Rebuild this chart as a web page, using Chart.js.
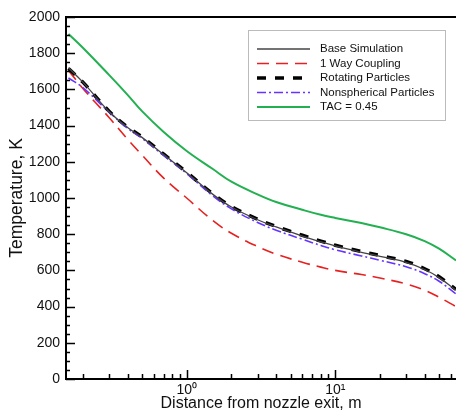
<!DOCTYPE html>
<html>
<head>
<meta charset="utf-8">
<script src="https://cdn.jsdelivr.net/npm/chart.js@4"></script>
<style>
  html, body { margin: 0; padding: 0; background: #fff; }
  #wrap { width: 456px; height: 413px; }
</style>
</head>
<body>
<div id="wrap"><canvas id="myChart"></canvas></div>
<script>
const distance = [0.16, 0.2, 0.3, 0.4, 0.5, 0.7, 1, 1.5, 2, 3, 4, 6, 8, 10, 15, 20, 30, 40, 50, 65];

const baseSim     = [1720, 1640, 1478, 1390, 1335, 1240, 1140, 1020, 950, 880, 840, 790, 758, 735, 700, 678, 645, 605, 560, 490];
const oneWay      = [1705, 1605, 1445, 1325, 1238, 1110, 1000, 875, 805, 732, 690, 645, 618, 600, 577, 558, 525, 490, 452, 400];
const rotating    = [1715, 1640, 1480, 1392, 1337, 1242, 1142, 1023, 953, 883, 843, 794, 762, 739, 704, 682, 649, 609, 565, 495];
const nonspherical = [1663, 1610, 1475, 1385, 1330, 1235, 1135, 1012, 940, 865, 822, 772, 738, 714, 680, 656, 620, 582, 540, 470];
const tac045      = [1906, 1830, 1680, 1570, 1480, 1365, 1260, 1160, 1090, 1020, 978, 935, 907, 890, 862, 838, 800, 762, 720, 655];

const xMajor = [1, 10];
const xMinor = [0.2, 0.3, 0.4, 0.5, 0.6, 0.7, 0.8, 0.9, 2, 3, 4, 5, 6, 7, 8, 9, 20, 30, 40, 50, 60];
const xLabels = { 1: '10\u2070', 10: '10\u00b9' };

const FONT = '"Liberation Sans", Arial, sans-serif';

function pts(vals) {
  return distance.map((d, i) => ({ x: d, y: vals[i] }));
}

const series = [
  { label: 'Base Simulation', data: pts(baseSim), borderColor: '#444', borderWidth: 1.3, borderDash: [], order: 0 },
  { label: '1 Way Coupling', data: pts(oneWay), borderColor: '#e82020', borderWidth: 1.6, borderDash: [12, 7], order: 3 },
  { label: 'Rotating Particles', data: pts(rotating), borderColor: '#000', borderWidth: 3.5, borderDash: [9, 9], order: 2 },
  { label: 'Nonspherical Particles', data: pts(nonspherical), borderColor: '#6633ff', borderWidth: 1.6, borderDash: [9, 3, 2, 3], order: 1 },
  { label: 'TAC = 0.45', data: pts(tac045), borderColor: '#22b050', borderWidth: 2, borderDash: [], order: 4 }
];

const axisTicks = {
  id: 'axisTicks',
  afterDatasetsDraw(chart) {
    const { ctx, chartArea: a, scales: { x, y } } = chart;
    ctx.save();
    ctx.strokeStyle = '#000';
    ctx.lineWidth = 1.5;
    ctx.beginPath();
    for (let v = 0; v <= 2000; v += 50) {
      const p = Math.round(y.getPixelForValue(v)) + 0.5;
      const len = v % 200 === 0 ? 9 : 4;
      ctx.moveTo(a.left, p);
      ctx.lineTo(a.left + len, p);
    }
    xMajor.forEach(v => {
      const p = Math.round(x.getPixelForValue(v)) + 0.5;
      ctx.moveTo(p, a.bottom);
      ctx.lineTo(p, a.bottom - 9);
    });
    xMinor.forEach(v => {
      const p = Math.round(x.getPixelForValue(v)) + 0.5;
      ctx.moveTo(p, a.bottom);
      ctx.lineTo(p, a.bottom - 5);
    });
    ctx.stroke();
    // top frame line
    ctx.lineWidth = 2;
    ctx.beginPath();
    ctx.moveTo(a.left, a.top);
    ctx.lineTo(a.right, a.top);
    ctx.stroke();
    ctx.restore();
  }
};

const boxLegend = {
  id: 'boxLegend',
  afterDraw(chart) {
    const ctx = chart.ctx;
    const bx = 248, by = 30, bw = 197, bh = 90;
    ctx.save();
    ctx.fillStyle = '#fff';
    ctx.fillRect(bx, by, bw, bh);
    ctx.strokeStyle = '#bbb';
    ctx.lineWidth = 1;
    ctx.strokeRect(bx + 0.5, by + 0.5, bw, bh);
    ctx.font = '11.5px ' + FONT;
    ctx.textBaseline = 'middle';
    series.forEach((s, i) => {
      const ly = by + 19 + i * 14.5;
      ctx.beginPath();
      ctx.strokeStyle = s.borderColor;
      ctx.lineWidth = s.borderWidth;
      ctx.setLineDash(s.borderDash);
      ctx.moveTo(257, ly);
      ctx.lineTo(310, ly);
      ctx.stroke();
      ctx.setLineDash([]);
      ctx.fillStyle = '#111';
      ctx.fillText(s.label, 320, ly);
    });
    ctx.restore();
  }
};

new Chart(document.getElementById('myChart'), {
  type: 'line',
  data: {
    datasets: series.map(s => ({
      label: s.label,
      data: s.data,
      borderColor: s.borderColor,
      borderWidth: s.borderWidth,
      borderDash: s.borderDash,
      order: s.order,
      pointRadius: 0,
      fill: false,
      tension: 0.4
    }))
  },
  options: {
    responsive: true,
    maintainAspectRatio: false,
    animation: false,
    layout: { padding: { top: 17, right: 0, left: 0, bottom: 0 } },
    plugins: { legend: { display: false }, tooltip: { enabled: false } },
    scales: {
      x: {
        type: 'logarithmic',
        min: 0.154,
        max: 65,
        grid: { display: false, drawTicks: false },
        border: { display: true, color: '#000', width: 2 },
        afterBuildTicks: s => { s.ticks = xMajor.map(v => ({ value: v })); },
        afterFit: s => { s.height = 34; },
        ticks: {
          autoSkip: false,
          maxRotation: 0,
          padding: 3,
          color: '#111',
          font: { family: FONT, size: 14 },
          callback: v => xLabels[v] || ''
        },
        title: {
          display: true,
          text: 'Distance from nozzle exit, m',
          color: '#111',
          font: { family: FONT, size: 16 },
          padding: { top: 0, bottom: 0 }
        }
      },
      y: {
        min: 0,
        max: 2000,
        grid: { display: false, drawTicks: false },
        border: { display: true, color: '#000', width: 2 },
        afterFit: s => { s.width = 66; },
        ticks: {
          stepSize: 200,
          padding: 6,
          color: '#111',
          font: { family: FONT, size: 14 },
          callback: v => String(v)
        },
        title: {
          display: true,
          text: 'Temperature, K',
          color: '#111',
          font: { family: FONT, size: 17.5 },
          padding: { top: 7, bottom: 0 }
        }
      }
    }
  },
  plugins: [axisTicks, boxLegend]
});
</script>
</body>
</html>
